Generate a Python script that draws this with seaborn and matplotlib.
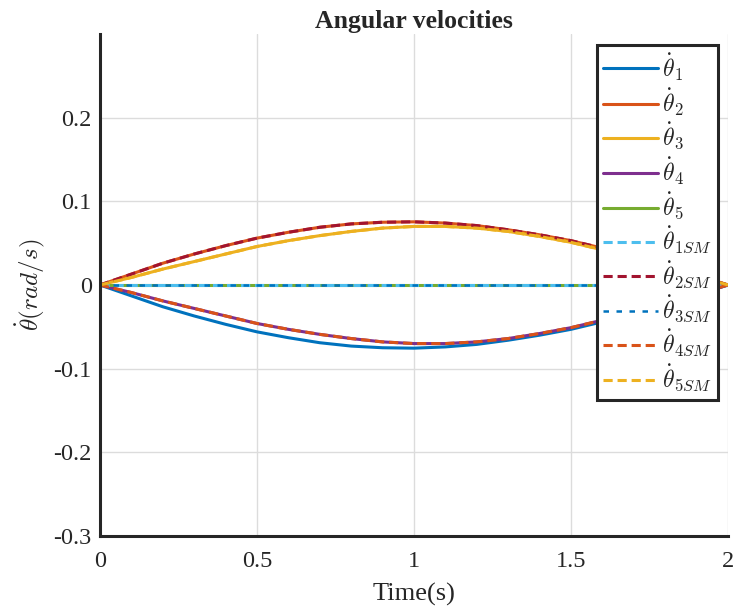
import numpy as np
import pandas as pd
import matplotlib
matplotlib.use("Agg")
import matplotlib.pyplot as plt
import seaborn as sns

# ---- data ----
t = [0.0, 0.1, 0.2, 0.3, 0.4, 0.5, 0.6, 0.7, 0.8, 0.9, 1.0,
     1.1, 1.2, 1.3, 1.4, 1.5, 1.6, 1.7, 1.8, 1.9, 2.0]
theta1 = [0.0, -0.013, -0.026, -0.037, -0.047, -0.056, -0.063, -0.069, -0.073, -0.075, -0.0755,
          -0.074, -0.071, -0.066, -0.060, -0.053, -0.044, -0.034, -0.023, -0.012, 0.0]
theta2 = [0.0, 0.013, 0.026, 0.037, 0.047, 0.056, 0.063, 0.069, 0.073, 0.075, 0.0755,
          0.074, 0.071, 0.066, 0.060, 0.053, 0.044, 0.034, 0.023, 0.012, 0.0]
theta3 = [0.0, 0.009, 0.019, 0.028, 0.037, 0.046, 0.053, 0.059, 0.064, 0.068, 0.070,
          0.070, 0.068, 0.064, 0.058, 0.051, 0.042, 0.032, 0.022, 0.011, 0.0]
theta4 = [0.0, -0.009, -0.019, -0.028, -0.037, -0.046, -0.053, -0.059, -0.064, -0.068, -0.070,
          -0.070, -0.068, -0.064, -0.058, -0.051, -0.042, -0.032, -0.022, -0.011, 0.0]
theta5 = [0.0] * 21
theta1SM = [0.0] * 21
theta2SM = theta2
theta3SM = [0.0] * 21
theta4SM = theta4
theta5SM = theta3

labels = [r"$\dot{\theta}_1$", r"$\dot{\theta}_2$", r"$\dot{\theta}_3$",
          r"$\dot{\theta}_4$", r"$\dot{\theta}_5$",
          r"$\dot{\theta}_{1SM}$", r"$\dot{\theta}_{2SM}$", r"$\dot{\theta}_{3SM}$",
          r"$\dot{\theta}_{4SM}$", r"$\dot{\theta}_{5SM}$"]
series = [theta1, theta2, theta3, theta4, theta5,
          theta1SM, theta2SM, theta3SM, theta4SM, theta5SM]

colors = ["#0072BD", "#D95319", "#EDB120", "#7E2F8E", "#77AC30",
          "#4DBEEE", "#A2142F", "#0072BD", "#D95319", "#EDB120"]
styles = ["-"] * 5 + ["--"] * 5

sns.set_style("white")
plt.rcParams["font.family"] = ["Liberation Serif", "DejaVu Serif"]
plt.rcParams["mathtext.fontset"] = "cm"

fig = plt.figure(figsize=(7.34, 6.10), dpi=100)
ax = fig.add_axes([0.1362, 0.1213, 0.8556, 0.8230])

df = pd.DataFrame({"t": t})
for lab, ys, c, ls in zip(labels, series, colors, styles):
    df["y"] = ys
    sns.lineplot(data=df, x="t", y="y", ax=ax, color=c, linewidth=2.2,
                 label=lab, dashes=False, linestyle=ls)
lines = ax.get_lines()
for line, ls in zip(lines, styles):
    if ls == "--":
        line.set_dashes((3.0, 1.6))
# zero line: light blue dominant with short dark dashes on top
lines[7].set_linewidth(1.8)
lines[7].set_dashes((2.2, 3.0))

ax.set_xlim(0, 2)
ax.set_ylim(-0.3, 0.3)
ax.set_xticks([0, 0.5, 1, 1.5, 2])
ax.set_xticklabels(["0", "0.5", "1", "1.5", "2"])
ax.set_yticks([-0.3, -0.2, -0.1, 0, 0.1, 0.2])
ax.set_yticklabels(["-0.3", "-0.2", "-0.1", "0", "0.1", "0.2"])
ax.grid(True, color="#dcdcdc", linewidth=1.0)
ax.tick_params(axis="both", direction="in", length=5, width=1.5,
               labelsize=17.5, colors="#262626")
ax.tick_params(axis="x", pad=11)
ax.tick_params(axis="y", pad=6)
for s in ["top", "right"]:
    ax.spines[s].set_visible(False)
for s in ["left", "bottom"]:
    ax.spines[s].set_linewidth(2.2)
    ax.spines[s].set_color("#262626")

ax.set_title("Angular velocities", fontsize=18.5, fontweight="bold", pad=4)
ax.set_xlabel("Time(s)", fontsize=19, labelpad=8)
ax.set_ylabel(r"$\dot{\theta}(rad/s)$", fontsize=18, labelpad=4)

leg = ax.legend(loc="upper right", bbox_to_anchor=(0.984, 0.978), borderaxespad=0,
                fontsize=17, frameon=True, fancybox=False, handlelength=2.3,
                handletextpad=0.2, labelspacing=0.14, borderpad=0.25)
leg.get_frame().set_edgecolor("#262626")
leg.get_frame().set_linewidth(2.2)
leg.get_frame().set_alpha(1.0)

fig.savefig("out.png", dpi=100, facecolor="white")
